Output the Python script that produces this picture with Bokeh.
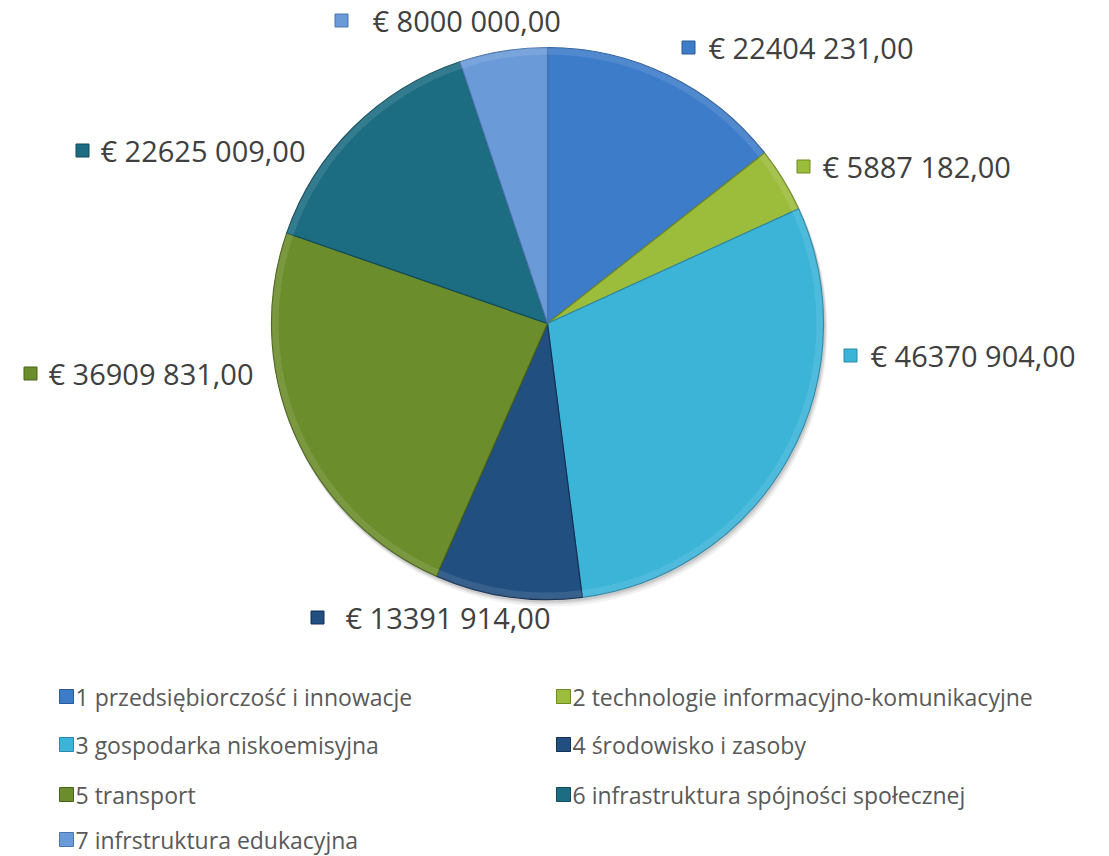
import numpy as np
from bokeh.plotting import figure
from bokeh.models import Range1d, ColumnDataSource
from bokeh.embed import file_html
from bokeh.resources import INLINE
from bokeh.core.properties import value

# ---------------- data ----------------
categories = [
    "1 przedsiębiorczość i innowacje",
    "2 technologie informacyjno-komunikacyjne",
    "3 gospodarka niskoemisyjna",
    "4 środowisko i zasoby",
    "5 transport",
    "6 infrastruktura spójności społecznej",
    "7 infrstruktura edukacyjna",
]
amounts = [22404231, 5887182, 46370904, 13391914, 36909831, 22625009, 8000000]

# ---------------- style / layout ----------------
colors = ["#3d7cc9", "#9cbc3c", "#3cb4d8", "#214f80", "#6b8d2b", "#1c6c82", "#6a9bd8"]
edge_colors = ["#2a5a99", "#6f8a24", "#2a89a8", "#142f52", "#4a631b", "#114a5a", "#4a74ab"]
FONT = "Open Sans"
W, H = 1109, 856
CX, CY, R = 547, H - 323, 276
# label marker offsets relative to the pie centre (pixels, y up)
label_offsets = [(141, 276), (256, 157), (303, -32), (-230, -294), (-517, -50), (-465, 173), (-206, 303)]
label_gaps = [20, 19, 20, 28, 18, 18, 31]


def fmt(v):
    return "€ {} {:03d},00".format(v // 1000, v % 1000)


vals = np.array(amounts, dtype=float)
frac = vals / vals.sum()
cum_end = np.cumsum(frac)
cum_start = cum_end - frac
start_angle = np.pi / 2 - 2 * np.pi * cum_start
end_angle = np.pi / 2 - 2 * np.pi * cum_end

p = figure(width=W, height=H, x_range=Range1d(0, W), y_range=Range1d(0, H),
           x_axis_type=None, y_axis_type=None, output_backend="svg",
           toolbar_location=None, min_border=0)
p.grid.visible = False
p.outline_line_color = None
p.background_fill_color = "white"

# soft shadow
for k, a in [(6, 0.05), (4, 0.07), (2, 0.10)]:
    p.circle(x=[CX + k * 0.5], y=[CY - k], radius=R + 1, fill_color="#000000",
             fill_alpha=a, line_color=None)

src = ColumnDataSource(dict(start=start_angle, end=end_angle, color=colors, edge=edge_colors,
                            x=[CX] * len(amounts), y=[CY] * len(amounts)))
p.wedge(x="x", y="y", radius=R, start_angle="start", end_angle="end", direction="clock",
        fill_color="color", line_color="edge", line_width=1.2, source=src)
# bevel highlight on the rim
p.annular_wedge(x="x", y="y", inner_radius=R - 7, outer_radius=R, start_angle="start",
                end_angle="end", direction="clock", fill_color="white", fill_alpha=0.10,
                line_color=None, source=src)

# data labels
mx = [CX + dx for dx, dy in label_offsets]
my = [CY + dy for dx, dy in label_offsets]
tx = [m + g for m, g in zip(mx, label_gaps)]
p.rect(x=mx, y=my, width=13, height=13, fill_color=colors, line_color=edge_colors, line_width=1)
p.text(x=tx, y=my, text=[fmt(v) for v in amounts], text_font=value(FONT),
       text_font_size="29px", text_color="#404040", text_baseline="middle", text_align="left")

# legend
leg_x = [66, 563]
leg_y = [696, 744, 794, 839]
lx, ly = [], []
for i in range(len(categories)):
    lx.append(leg_x[i % 2])
    ly.append(H - leg_y[i // 2])
p.rect(x=lx, y=ly, width=14, height=14, fill_color=colors, line_color=edge_colors, line_width=1)
p.text(x=[x + 9 for x in lx], y=ly, text=categories, text_font=value(FONT),
       text_font_size="23px", text_color="#595959", text_baseline="middle", text_align="left")

open("out.html", "w").write(file_html(p, INLINE))
